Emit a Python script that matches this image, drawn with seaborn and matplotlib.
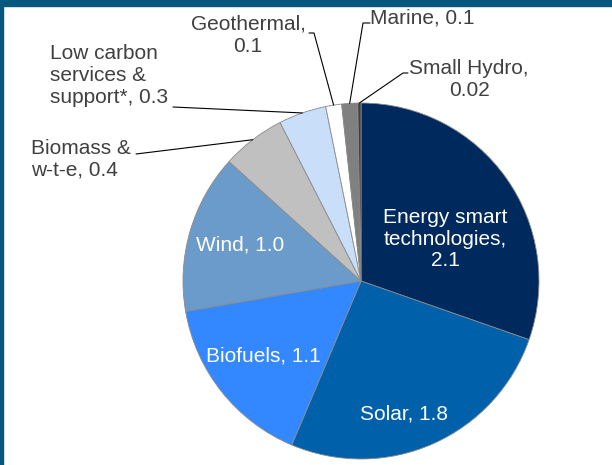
import matplotlib
matplotlib.use("Agg")
import matplotlib.pyplot as plt
import matplotlib.patches as mpatches
import seaborn as sns
import numpy as np

# ===============================================
# Data
# ===============================================
sources = ["Energy smart technologies", "Solar", "Biofuels", "Wind",
           "Biomass & w-t-e", "Low carbon services & support*",
           "Geothermal", "Marine", "Small Hydro"]
values = [2.1, 1.8, 1.1, 1.0, 0.4, 0.3, 0.1, 0.1, 0.02]
labels = ["Energy smart\ntechnologies,\n2.1", "Solar, 1.8", "Biofuels, 1.1",
          "Wind, 1.0", "Biomass &\nw-t-e, 0.4",
          "Low carbon\nservices &\nsupport*, 0.3", "Geothermal,\n0.1",
          "Marine, 0.1", "Small Hydro,\n0.02"]
colors = ["#00295E", "#0060AA", "#3388FF", "#6B9BCA", "#C0C0C0",
          "#C9DEF8", "#FFFFFF", "#808080", "#404040"]

sns.set_theme(style="white")
plt.rcParams['font.family'] = ['Liberation Sans', 'DejaVu Sans']

W, H = 612, 465
fig = plt.figure(figsize=(W / 100, H / 100), dpi=100)
fig.patch.set_facecolor("white")

# frame of the slide (top band + left edge)
band = "#04587E"
fig.patches.append(mpatches.Rectangle((0, 1 - 6 / H), 1, 6 / H, transform=fig.transFigure,
                                      color=band, zorder=0))
fig.patches.append(mpatches.Rectangle((0, 0), 2.5 / W, 1, transform=fig.transFigure,
                                      color=band, zorder=0))

# pie: centre (361, 281) px, radius 178 px
CX, CY, R = 361, 281, 178
ax = fig.add_axes([(CX - R) / W, (H - CY - R) / H, 2 * R / W, 2 * R / H])
wedges, _ = ax.pie(values, colors=colors, startangle=90, counterclock=False,
                   wedgeprops=dict(edgecolor="#8A8A8A", linewidth=0.6))
ax.set_xlim(-1, 1)
ax.set_ylim(-1, 1)
ax.set_aspect("equal")
ax.axis("off")


def px(x, y):
    # pixel position in the picture -> data units of the pie axes
    return (x - CX) / R, (CY - y) / R


def edge_point(w):
    ang = np.deg2rad((w.theta1 + w.theta2) / 2)
    return np.cos(ang), np.sin(ang)


fs = 15
ls = 1.2
# labels inside the big slices
inside = {0: (445, 239), 1: (404, 414), 2: (263, 356), 3: (240, 245)}
for i, (x, y) in inside.items():
    tx, ty = px(x, y)
    ax.text(tx, ty, labels[i], ha="center", va="center", color="white",
            fontsize=fs, linespacing=ls)

# labels outside with leader lines: (text pos, ha, leader start, tick end)
outside = {
    4: ((31, 159), "left", (136, 154), None),
    5: ((50, 75), "left", (173, 107), None),
    6: ((248, 35), "center", (309, 33), (314, 33)),
    7: ((370, 18), "left", (370, 23), (363, 23)),
    8: ((469, 79), "center", (408, 73), (403, 73)),
}
for i, (pos, ha, start, tick) in outside.items():
    tx, ty = px(*pos)
    ax.text(tx, ty, labels[i], ha=ha, va="center", color="#404040",
            fontsize=fs, linespacing=ls)
    pts = [px(*start)]
    if tick is not None:
        pts.append(px(*tick))
    pts.append(edge_point(wedges[i]))
    xs, ys = zip(*pts)
    ax.plot(xs, ys, color="black", lw=0.8, clip_on=False)

fig.savefig("out.png", dpi=100)
